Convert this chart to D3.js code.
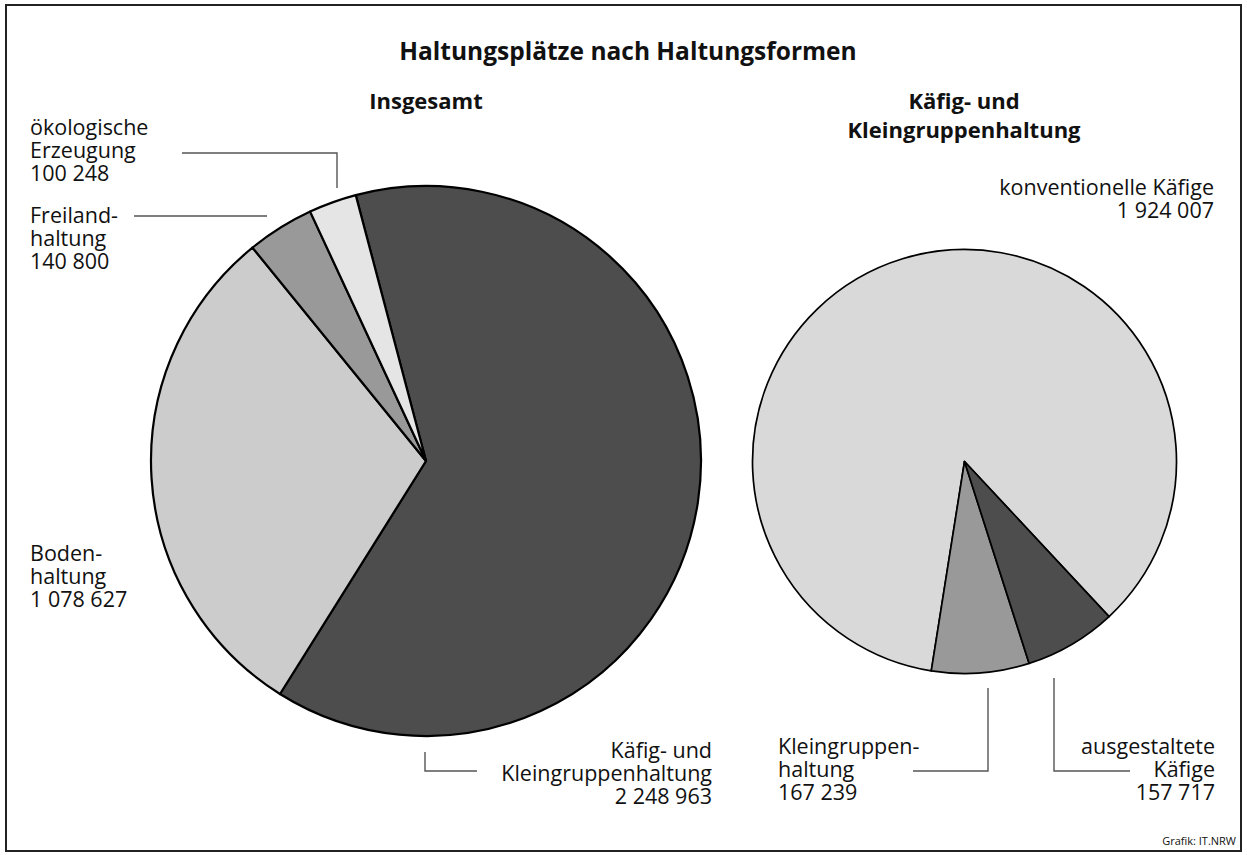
<!DOCTYPE html>
<html>
<head>
<meta charset="utf-8">
<script src="https://cdn.jsdelivr.net/npm/d3@7"></script>
<style>
  body { margin: 0; background: #fff; }
  svg text { font-family: "Open Sans", "Noto Sans", sans-serif; fill: #111; }
</style>
</head>
<body>
<div id="chart-container"></div>
<script>
// data: left pie (Insgesamt)
const totalCategories = ['Käfig- und Kleingruppenhaltung', 'Bodenhaltung', 'Freilandhaltung', 'ökologische Erzeugung'];
const totalValues = [2248963, 1078627, 140800, 100248];
const totalColors = ['#4d4d4d', '#cccccc', '#999999', '#e5e5e5'];

// data: right pie (Käfig- und Kleingruppenhaltung)
const cageCategories = ['konventionelle Käfige', 'Kleingruppenhaltung', 'ausgestaltete Käfige'];
const cageValues = [1924007, 167239, 157717];
const cageColors = ['#d9d9d9', '#999999', '#4d4d4d'];

const width = 1247;
const height = 855;
const fmt = v => d3.format(',')(v).replace(/,/g, ' ');

const svg = d3.select('#chart-container')
  .append('svg')
  .attr('width', width)
  .attr('height', height);

// frame
svg.append('rect')
  .attr('x', 6)
  .attr('y', 5)
  .attr('width', 1235)
  .attr('height', 846)
  .attr('fill', 'none')
  .attr('stroke', '#222')
  .attr('stroke-width', 2);

svg.append('text')
  .attr('x', 628)
  .attr('y', 60)
  .attr('text-anchor', 'middle')
  .style('font-size', '24.5px')
  .style('font-weight', 'bold')
  .text('Haltungsplätze nach Haltungsformen');

const deg = Math.PI / 180;

function drawPie(cx, cy, r, values, colors, start, end, strokeW) {
  const pie = d3.pie().sort(null).startAngle(start * deg).endAngle(end * deg);
  const arc = d3.arc().innerRadius(0).outerRadius(r);
  const g = svg.append('g').attr('transform', `translate(${cx}, ${cy})`);
  g.selectAll('path')
    .data(pie(values))
    .join('path')
    .attr('d', arc)
    .attr('fill', (d, i) => colors[i])
    .attr('stroke', '#000')
    .attr('stroke-width', strokeW)
    .attr('stroke-linejoin', 'round');
  return g;
}

drawPie(426, 461, 275, totalValues, totalColors, -14.8, 345.2, 2.2);
drawPie(964.5, 461.5, 212, cageValues, cageColors, 497, 137, 1.7);

// text blocks
function textBlock(x, y, lines, anchor, size, weight, lh) {
  const t = svg.append('text')
    .attr('text-anchor', anchor)
    .style('font-size', size + 'px')
    .style('font-weight', weight || 'normal');
  lines.forEach((l, i) => {
    t.append('tspan').attr('x', x).attr('y', y + i * (lh || 23)).text(l);
  });
}

textBlock(426, 109, ['Insgesamt'], 'middle', 22, 'bold');
textBlock(964, 109, ['Käfig- und', 'Kleingruppenhaltung'], 'middle', 22, 'bold', 29);

// labels
const fs = 21.5;
textBlock(30, 135, ['ökologische', 'Erzeugung', fmt(totalValues[3])], 'start', fs);
textBlock(30, 223, ['Freiland-', 'haltung', fmt(totalValues[2])], 'start', fs);
textBlock(30, 561, ['Boden-', 'haltung', fmt(totalValues[1])], 'start', fs);
textBlock(712, 758, ['Käfig- und', 'Kleingruppenhaltung', fmt(totalValues[0])], 'end', fs);

textBlock(1214, 195, ['konventionelle Käfige', fmt(cageValues[0])], 'end', fs);
textBlock(778, 754, ['Kleingruppen-', 'haltung', fmt(cageValues[1])], 'start', fs);
textBlock(1215, 754, ['ausgestaltete', 'Käfige', fmt(cageValues[2])], 'end', fs);

// leader lines
const leaders = [
  [[182, 153], [337, 153], [337, 188]],
  [[134, 216], [267, 216]],
  [[425, 752], [425, 771], [477, 771]],
  [[988, 688], [988, 771], [913, 771]],
  [[1054, 678], [1054, 771], [1130, 771]]
];
svg.selectAll('path.leader')
  .data(leaders)
  .join('path')
  .attr('class', 'leader')
  .attr('d', d3.line())
  .attr('fill', 'none')
  .attr('stroke', '#555')
  .attr('stroke-width', 1.4);

svg.append('text')
  .attr('x', 1236)
  .attr('y', 845)
  .attr('text-anchor', 'end')
  .style('font-size', '11px')
  .text('Grafik: IT.NRW');
</script>
</body>
</html>
